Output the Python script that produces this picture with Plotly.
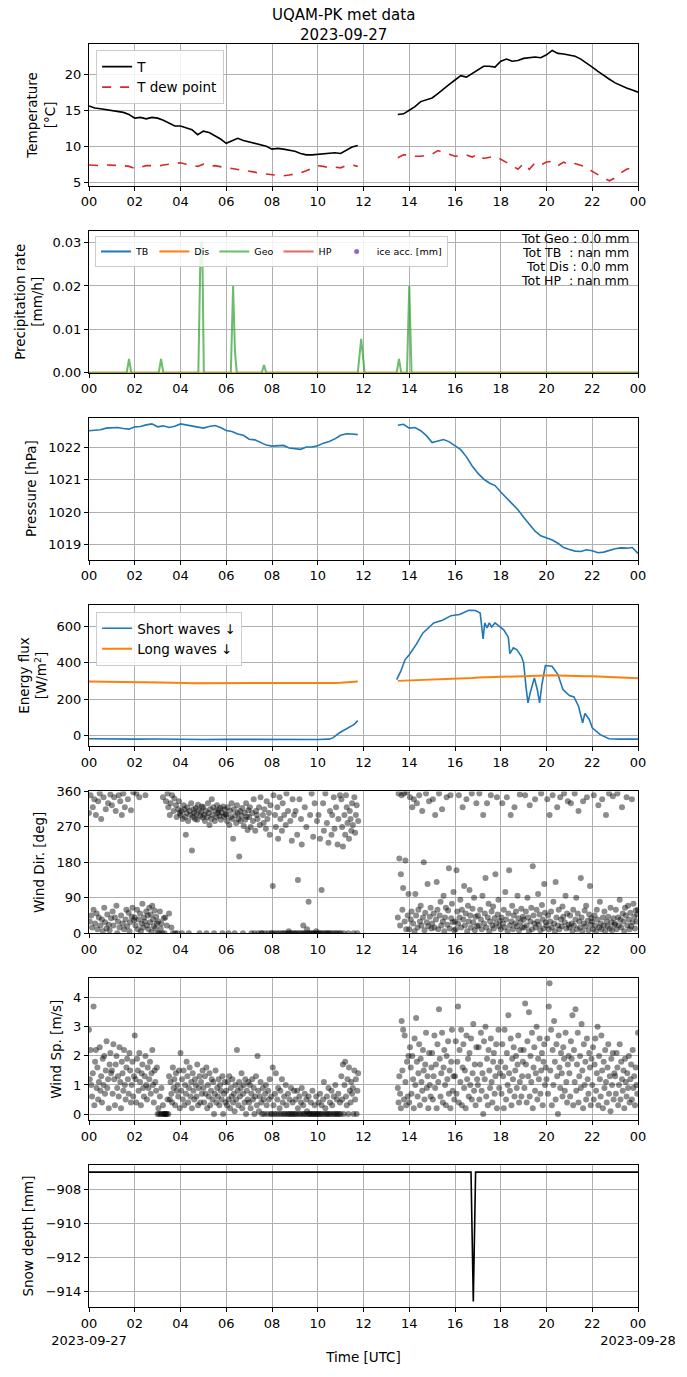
import numpy as np
import pandas as pd
import plotly.graph_objects as go
from plotly.subplots import make_subplots

DAY = pd.Timestamp("2023-09-27")
LINE_STEP = 0.25       # h, line series are 15-min samples
WIND_STEP = 1.0 / 30   # h, wind samples every 2 min
SEG_B = 13.5           # second segment start (data gap before it)

# temperature [°C]
temp_a = [15.6, 15.3, 15.2, 15.1, 15.0, 14.9, 14.7, 14.4, 13.9, 14.0, 13.8, 14.0,
          13.9, 13.6, 13.2, 12.8, 12.8, 12.6, 12.3, 11.6, 12.1, 11.9, 11.5, 11.0,
          10.4, 10.8, 11.1, 10.8, 10.6, 10.3, 10.1, 10.0, 9.6, 9.7, 9.6, 9.5,
          9.3, 9.0, 8.8, 8.8, 8.9, 9.0, 9.0, 9.1, 9.0, 9.5, 9.9, 10.1]
temp_b = [14.4, 14.5, 15.0, 15.5, 16.2, 16.5, 16.7, 17.3, 18.0, 18.6,
          19.2, 19.8, 19.6, 20.1, 20.7, 21.1, 21.1, 21.0, 21.8, 22.1, 21.8, 21.9,
          22.2, 22.3, 22.4, 22.3, 22.7, 23.3, 22.9, 22.8, 22.6, 22.5, 22.1, 21.6,
          21.0, 20.4, 19.8, 19.3, 18.8, 18.4, 18.1, 17.8, 17.5]
dew_a = [7.4, 7.3, 7.3, 7.4, 7.4, 7.4, 7.3, 7.2, 6.9, 7.1, 7.3, 7.3,
         7.2, 7.4, 7.5, 7.6, 7.7, 7.5, 7.4, 7.2, 7.5, 7.2, 7.3, 7.1,
         7.0, 6.9, 6.8, 6.6, 6.5, 6.4, 6.2, 6.1, 6.0, 6.0, 5.9, 6.0,
         6.1, 6.3, 6.6, 7.0, 7.3, 7.2, 7.0, 7.1, 7.0, 7.3, 7.4, 7.2]
dew_b = [8.4, 8.8, 8.8, 8.6, 8.6, 8.7, 8.9, 9.4, 9.2, 8.9,
         8.6, 8.7, 8.8, 8.5, 8.9, 8.3, 8.5, 8.6, 8.2, 7.8, 7.3, 6.8,
         7.6, 6.8, 7.7, 7.4, 7.8, 7.9, 7.3, 7.8, 7.4, 7.6, 7.3, 7.1,
         6.5, 6.0, 5.6, 5.2, 5.6, 6.3, 6.8, 7.0, 7.2]

# precipitation rate [mm/h]
geo_hours = [0, 1.65, 1.75, 1.85, 3.05, 3.15, 3.25, 4.78, 4.88, 4.95, 5.02,
             6.2, 6.3, 6.38, 6.46, 7.55, 7.65, 7.75, 11.75, 11.9, 12.05,
             13.45, 13.55, 13.65, 13.9, 14.0, 14.1, 24]
geo_rate = [0, 0, 0.0032, 0, 0, 0.0032, 0, 0, 0.03, 0.03, 0,
            0, 0.02, 0.005, 0, 0, 0.0018, 0, 0, 0.0078, 0,
            0, 0.0032, 0, 0, 0.02, 0, 0]
dis_hours = [0, 24]
dis_rate = [0, 0]
precip_totals = ["Tot Geo : 0.0 mm", "Tot TB\u00a0 : nan mm",
                 "Tot Dis : 0.0 mm", "Tot HP\u00a0 : nan mm"]

# pressure [hPa]
pres_a = [1022.50, 1022.52, 1022.53, 1022.58, 1022.60, 1022.60, 1022.57, 1022.55,
          1022.62, 1022.63, 1022.68, 1022.71, 1022.62, 1022.65, 1022.60, 1022.64,
          1022.71, 1022.68, 1022.63, 1022.62, 1022.58, 1022.63, 1022.66, 1022.60,
          1022.51, 1022.48, 1022.40, 1022.36, 1022.24, 1022.22, 1022.15, 1022.06,
          1022.03, 1022.04, 1022.05, 1021.97, 1021.95, 1021.93, 1022.00, 1022.00,
          1022.04, 1022.12, 1022.17, 1022.25, 1022.36, 1022.41, 1022.40, 1022.38]
pres_b = [1022.67, 1022.70, 1022.58, 1022.60, 1022.50, 1022.35, 1022.14, 1022.18,
          1022.23, 1022.16, 1022.05, 1021.92, 1021.70, 1021.42, 1021.20, 1021.02,
          1020.90, 1020.82, 1020.62, 1020.45, 1020.25, 1020.08, 1019.85, 1019.62,
          1019.42, 1019.28, 1019.22, 1019.15, 1019.05, 1018.92, 1018.86, 1018.81,
          1018.80, 1018.85, 1018.82, 1018.76, 1018.78, 1018.84, 1018.88, 1018.91,
          1018.90, 1018.92, 1018.74]

# radiation [W/m2]
sw_hours_a = [0, 0.5, 1, 2, 3, 4, 5, 6, 7, 8, 9, 10, 10.5, 10.66, 10.95,
              11.23, 11.42, 11.58, 11.75]
sw_a = [-18, -19, -19, -20, -19, -22, -22, -21, -22, -22, -22, -22, -20, -13, 15,
        33, 48, 60, 82]
sw_hours_b = [13.45, 13.63, 13.82, 14.0, 14.3, 14.6, 15.07, 15.45, 15.83, 16.2,
              16.6, 16.9, 17.1, 17.23, 17.3, 17.4, 17.5, 17.6, 17.75, 17.94,
              18.13, 18.33, 18.4, 18.55, 18.7, 18.9, 19.0, 19.1, 19.19, 19.3,
              19.47, 19.6, 19.7, 19.8, 19.95, 20.24, 20.5, 20.72, 21.0, 21.2,
              21.4, 21.58, 21.68, 21.87, 22.0, 22.35, 22.73, 23.2, 24.0]
sw_b = [307, 353, 417, 444, 499, 563, 618, 633, 658, 664,
        688, 686, 673, 530, 618, 591, 618, 596, 618, 600,
        580, 540, 450, 481, 472, 435, 399, 271, 179, 240,
        316, 250, 179, 280, 384, 380, 335, 252, 219, 212,
        161, 70, 121, 88, 42, 5, -18, -20, -20]
lw_a = [297, 297, 296, 296, 295, 295, 294, 294, 293, 293, 292, 292,
        291, 290, 290, 289, 288, 288, 287, 287, 287, 286, 286, 286,
        286, 286, 286, 286, 285, 285, 285, 285, 285, 285, 285, 285,
        285, 285, 285, 286, 286, 287, 288, 289, 290, 292, 294, 296]
lw_b = [300, 301, 302, 303, 304, 305, 306, 307,
        308, 309, 311, 312, 314, 316, 318, 319,
        321, 323, 324, 326, 327, 328, 329, 330,
        331, 331, 331, 331, 330, 330, 329, 328,
        327, 326, 325, 324, 323, 321, 320, 318,
        317, 316, 315]

# wind direction [deg], 2-min samples, one row per hour
wdir_a = [
    305, 30, 350, 45, 15, 320, 60, 340, 25, 300, 50, 10, 335, 40, 355, 20, 290, 35, 5, 345, 65, 28, 315, 12, 48, 330, 22, 8, 352, 38,
    325, 55, 20, 345, 40, 310, 70, 0, 30, 350, 15, 335, 45, 300, 25, 355, 10, 320, 35, 60, 18, 340, 52, 5, 28, 312, 42, 65, 358, 33,
    40, 20, 355, 60, 10, 35, 345, 50, 5, 25, 75, 15, 40, 30, 350, 55, 20, 45, 10, 65, 28, 48, 3, 70, 35, 18, 58, 12, 42, 25,
    0, 30, 0, 55, 12, 25, 0, 345, 38, 0, 40, 335, 20, 355, 320, 50, 300, 330, 15, 350, 0, 310, 342, 0, 325, 295, 0, 315, 335, 305,
    300, 310, 0, 290, 325, 315, 295, 250, 305, 320, 285, 0, 310, 300, 330, 210, 295, 315, 305, 290, 318, 302, 288, 326, 312, 0, 298, 308, 322, 294,
    320, 300, 285, 310, 0, 295, 330, 305, 275, 315, 290, 340, 300, 320, 0, 285, 310, 295, 325, 305, 312, 298, 318, 288, 306, 0, 322, 296, 314, 302,
    300, 285, 320, 0, 275, 310, 295, 330, 290, 240, 315, 0, 300, 280, 325, 305, 290, 195, 310, 285, 298, 318, 0, 272, 306, 288, 330, 296, 262, 312,
    295, 320, 270, 0, 305, 285, 340, 0, 260, 310, 300, 290, 0, 320, 275, 345, 0, 0, 300, 280, 315, 0, 265, 335, 290, 0, 305, 250, 325, 0,
    0, 120, 350, 0, 300, 270, 0, 320, 240, 0, 345, 290, 0, 260, 330, 0, 300, 0, 275, 355, 0, 310, 5, 0, 285, 0, 235, 340, 0, 300,
    0, 310, 0, 250, 135, 0, 340, 0, 290, 225, 0, 20, 0, 320, 0, 270, 10, 0, 80, 0, 300, 0, 355, 0, 245, 0, 330, 0, 5, 285,
    0, 300, 0, 240, 0, 110, 0, 330, 260, 0, 355, 0, 280, 0, 230, 0, 310, 0, 250, 300, 0, 345, 265, 0, 320, 0, 225, 290, 0, 350,
    0, 340, 270, 220, 0, 300, 250, 350, 320, 280, 0, 240, 310, 290, 260, 330, 275, 0, 345, 255, 300, 325, 0, 285]
wdir_b = [
    40, 355, 190, 20, 150, 350, 60, 115, 355, 30, 185, 10, 358, 45, 100,
    10, 345, 35, 55, 320, 25, 340, 5, 100, 45, 330, 15, 60, 350, 30, 70, 20, 310, 40, 180, 8, 52, 355, 28, 125, 18, 335, 42, 65, 12,
    25, 340, 50, 15, 300, 35, 130, 60, 10, 355, 45, 80, 20, 315, 30, 95, 5, 40, 65, 345, 22, 58, 165, 12, 350, 38, 75, 28, 105, 8,
    30, 10, 160, 55, 25, 350, 40, 85, 15, 60, 320, 35, 120, 20, 50, 340, 5, 70, 30, 110, 45, 15, 355, 62, 28, 90, 8, 42, 330, 18,
    45, 20, 355, 60, 35, 10, 95, 300, 25, 50, 140, 15, 330, 40, 75, 5, 30, 350, 55, 20, 68, 12, 38, 150, 25, 345, 48, 85, 18, 32,
    10, 40, 330, 25, 60, 15, 105, 35, 345, 5, 50, 160, 20, 300, 30, 70, 10, 45, 320, 25, 55, 18, 95, 38, 8, 352, 28, 62, 15, 42,
    35, 15, 350, 55, 20, 90, 40, 5, 325, 30, 65, 10, 170, 45, 25, 340, 15, 60, 30, 100, 22, 48, 8, 355, 72, 35, 12, 125, 52, 28,
    20, 340, 45, 10, 300, 30, 55, 15, 350, 80, 25, 5, 130, 40, 320, 20, 60, 10, 345, 35, 18, 68, 42, 355, 28, 95, 12, 50, 335, 22,
    15, 45, 330, 25, 5, 60, 20, 355, 35, 90, 10, 50, 310, 30, 15, 140, 40, 5, 335, 25, 58, 18, 70, 345, 32, 8, 48, 120, 22, 38,
    30, 10, 350, 45, 20, 5, 60, 35, 325, 15, 80, 25, 10, 340, 40, 20, 55, 5, 300, 30, 18, 42, 355, 12, 65, 28, 8, 348, 38, 22,
    25, 60, 10, 355, 40, 20, 85, 35, 15, 320, 50, 30, 5, 65, 45, 345, 20, 70, 35, 10, 52, 18, 340, 28, 75, 42, 12, 58, 30, 48,
    60]

# wind speed [m/s], 2-min samples
wspd_a = [
    2.9, 1.2, 2.2, 1.0, 0.6, 1.4, 3.7, 0.3, 1.8, 2.2, 0.9, 1.6, 0.5, 1.1, 2.3, 0.8, 1.3, 0.4, 1.9, 1.0, 2.0, 0.7, 1.5, 2.5, 0.9, 1.2, 0.2, 1.7, 2.1, 1.4,
    1.5, 0.7, 2.4, 1.2, 0.3, 1.7, 2.0, 0.9, 1.3, 0.6, 2.3, 1.1, 0.2, 1.8, 1.4, 0.8, 2.2, 1.0, 0.5, 1.6, 1.9, 1.2, 0.7, 2.1, 1.5, 0.4, 1.0, 1.8, 0.6, 1.3,
    2.7, 1.2, 0.4, 1.9, 1.5, 0.8, 2.1, 1.1, 0.3, 1.4, 1.7, 0.9, 0.6, 1.3, 2.0, 1.0, 0.5, 1.6, 0.9, 1.2, 1.8, 0.7, 1.4, 2.2, 1.0, 0.4, 1.5, 1.1, 0.8, 1.6,
    0.0, 0.2, 0.0, 0.6, 0.0, 0.9, 0.0, 0.3, 0.0, 0.0, 0.0, 0.0, 0.0, 0.5, 0.0, 1.3, 0.5, 1.1, 0.7, 0.4, 1.6, 0.9, 1.2, 0.3, 1.4, 0.8, 1.0, 0.6, 1.5, 0.2,
    2.1, 0.8, 1.2, 0.5, 1.5, 0.3, 1.0, 0.7, 1.8, 1.3, 0.4, 0.9, 1.6, 0.6, 1.1, 0.2, 1.4, 0.8, 0.5, 1.2, 1.0, 0.6, 1.7, 0.3, 0.9, 1.3, 0.4, 1.1, 0.7, 1.5,
    0.9, 0.4, 1.3, 0.7, 1.6, 0.2, 1.0, 0.6, 1.4, 0.3, 0.8, 1.2, 0.5, 1.1, 0.0, 0.7, 1.5, 0.4, 0.9, 0.6, 1.2, 0.3, 1.0, 0.8, 0.5, 1.3, 0.0, 0.7, 1.1, 0.4,
    0.8, 0.3, 1.1, 0.5, 1.3, 0.2, 0.9, 0.6, 1.2, 0.4, 0.7, 0.1, 1.0, 0.5, 2.2, 0.8, 0.3, 1.1, 0.6, 0.9, 1.4, 0.2, 0.7, 1.0, 0.4, 1.2, 0.0, 0.8, 0.5, 1.1,
    0.4, 1.0, 0.2, 0.7, 1.2, 0.5, 0.9, 0.0, 0.6, 1.3, 0.3, 2.0, 0.8, 0.1, 0.6, 1.1, 0.4, 0.0, 0.9, 0.5, 0.0, 0.7, 1.0, 0.3, 0.0, 0.8, 0.5, 1.2, 0.0, 0.6,
    0.0, 1.6, 0.3, 0.0, 0.7, 1.4, 0.0, 0.5, 0.9, 0.0, 0.2, 0.8, 0.0, 1.2, 0.4, 0.0, 0.6, 0.0, 1.0, 0.3, 0.0, 0.7, 0.0, 0.5, 0.0, 0.9, 0.0, 0.4, 0.0, 0.8,
    0.0, 0.5, 0.0, 0.8, 0.2, 0.0, 0.6, 0.0, 0.4, 0.9, 0.0, 0.3, 0.0, 0.7, 0.0, 0.5, 0.1, 0.0, 0.6, 0.0, 0.0, 0.4, 0.0, 0.8, 0.0, 0.0, 0.3, 0.0, 0.6, 0.0,
    0.0, 0.4, 0.0, 0.7, 0.0, 0.3, 0.0, 0.5, 1.1, 0.0, 0.2, 0.0, 0.6, 0.0, 0.9, 0.0, 0.4, 0.0, 0.8, 0.3, 0.0, 0.6, 0.0, 1.0, 0.0, 0.5, 0.0, 0.7, 0.0, 0.4,
    0.0, 1.3, 0.5, 1.7, 0.0, 1.0, 1.8, 0.6, 0.3, 1.2, 0.0, 1.6, 0.8, 0.4, 1.1, 0.7, 0.9, 0.0, 1.5, 0.5, 1.2, 0.0, 0.8, 1.4]
wspd_b = [
    0.9, 0.4, 1.3, 0.7, 0.2, 3.2, 1.5, 2.9, 0.5, 2.7, 1.1, 0.3, 1.8, 0.6, 2.0,
    0.4, 2.3, 1.6, 0.7, 2.0, 1.2, 0.2, 2.6, 1.0, 3.3, 1.8, 0.6, 1.4, 2.4, 0.3, 1.9, 1.1, 0.8, 2.2, 1.5, 0.5, 1.7, 2.8, 0.9, 1.3, 0.2, 2.1, 1.0, 0.6, 1.6,
    2.1, 0.5, 1.3, 2.7, 0.9, 1.7, 0.2, 2.4, 1.1, 3.6, 1.9, 0.6, 1.4, 2.8, 0.4, 1.6, 2.2, 1.0, 0.3, 2.0, 1.2, 2.5, 0.7, 1.5, 0.2, 1.8, 2.9, 0.8, 1.3, 0.5,
    1.3, 2.5, 0.7, 1.8, 3.7, 0.4, 2.2, 1.1, 2.9, 0.3, 1.6, 2.4, 0.9, 1.5, 0.2, 2.7, 1.2, 1.9, 0.6, 2.1, 1.0, 2.6, 0.5, 1.4, 3.1, 0.8, 1.7, 0.3, 2.3, 1.2,
    1.0, 2.3, 0.5, 1.7, 2.8, 0.8, 1.4, 0.0, 2.5, 1.2, 3.0, 0.6, 1.9, 0.3, 2.2, 1.5, 0.9, 2.6, 1.1, 0.4, 1.8, 2.1, 0.7, 1.3, 2.4, 0.2, 1.6, 2.9, 0.9, 1.4,
    1.8, 0.7, 2.4, 1.3, 0.2, 2.9, 1.6, 0.5, 2.1, 1.0, 3.4, 1.4, 0.8, 2.6, 0.3, 1.9, 1.2, 2.3, 0.6, 1.5, 2.0, 0.9, 1.7, 2.7, 0.4, 1.1, 2.2, 0.6, 1.3, 1.8,
    2.2, 0.9, 3.8, 1.7, 0.4, 2.5, 1.3, 3.5, 0.6, 2.0, 1.1, 2.8, 0.2, 1.6, 2.3, 0.8, 1.4, 3.0, 0.5, 1.9, 1.2, 2.6, 0.7, 1.5, 2.1, 0.3, 1.8, 2.4, 1.0, 1.6,
    1.2, 2.6, 0.7, 3.7, 4.5, 1.5, 2.9, 0.3, 2.2, 1.0, 3.2, 1.8, 0.5, 2.4, 1.3, 0.0, 2.7, 1.6, 0.9, 2.1, 1.4, 0.6, 2.3, 1.9, 0.8, 2.8, 1.1, 0.4, 1.7, 2.0,
    1.4, 0.6, 2.5, 1.9, 3.4, 0.3, 2.2, 1.1, 3.6, 0.8, 1.7, 2.8, 0.4, 1.3, 2.0, 0.9, 3.1, 1.5, 0.2, 2.4, 1.0, 1.8, 0.5, 2.6, 1.2, 0.7, 2.1, 1.6, 0.3, 1.9,
    1.0, 2.3, 0.5, 1.7, 2.6, 0.8, 1.4, 3.0, 0.3, 2.0, 1.2, 0.6, 2.7, 1.5, 0.2, 1.8, 0.9, 2.2, 1.1, 0.4, 1.6, 2.4, 0.7, 1.3, 0.1, 1.9, 1.0, 2.1, 0.5, 1.4,
    1.3, 0.7, 2.1, 1.6, 0.3, 1.0, 2.4, 0.5, 1.8, 1.2, 0.8, 1.5, 0.2, 1.9, 1.1, 0.6, 1.4, 0.9, 2.0, 0.4, 1.2, 1.7, 0.5, 2.2, 0.9, 1.3, 0.3, 1.6, 1.0, 0.7,
    2.8]

# snow depth [mm]
snow_hours = [0, 16.7, 16.8, 16.9, 24]
snow_depth = [-907.0, -907.0, -914.6, -907.0, -907.0]

tick_hours = list(range(0, 25, 2))
tick_labels = ["00", "02", "04", "06", "08", "10", "12", "14", "16", "18", "20", "22", "00"]
bottom_labels = ["00<br>2023-09-27"] + tick_labels[1:-1] + ["00<br>2023-09-28"]


def at_hours(h):
    return DAY + pd.to_timedelta(np.asarray(h, dtype=float), unit="h")


def sampled(start, step, n):
    return at_hours(start + step * np.arange(n))


def two_segments(ya, yb, step):
    xa = sampled(0.0, step, len(ya))
    xb = sampled(SEG_B, step, len(yb))
    # a None between the two segments breaks the line
    x = list(xa) + [xa[-1] + pd.Timedelta(minutes=1)] + list(xb)
    y = list(ya) + [None] + list(yb)
    return x, y


FONT = "DejaVu Sans"
BLUE, ORANGE, GREEN, RED, PURPLE = "#1f77b4", "#ff7f0e", "#2ca02c", "#d62728", "#9467bd"

fig = make_subplots(rows=7, cols=1, vertical_spacing=0.0356)

# temperature
x, y = two_segments(temp_a, temp_b, LINE_STEP)
fig.add_trace(go.Scatter(x=x, y=y, mode="lines", name="T", legend="legend",
                         line=dict(color="black", width=1.6)), row=1, col=1)
x, y = two_segments(dew_a, dew_b, LINE_STEP)
fig.add_trace(go.Scatter(x=x, y=y, mode="lines", name="T dew point", legend="legend",
                         line=dict(color=RED, width=1.6, dash="dash")), row=1, col=1)

# precipitation
fig.add_trace(go.Scatter(x=at_hours([0]), y=[None], mode="lines", name="TB", legend="legend2",
                         line=dict(color=BLUE, width=2)), row=2, col=1)
fig.add_trace(go.Scatter(x=at_hours(dis_hours), y=dis_rate, mode="lines", name="Dis",
                         legend="legend2", line=dict(color=ORANGE, width=2)), row=2, col=1)
fig.add_trace(go.Scatter(x=at_hours(geo_hours), y=geo_rate, mode="lines", name="Geo",
                         legend="legend2", line=dict(color="rgba(44,160,44,0.7)", width=2)),
              row=2, col=1)
fig.add_trace(go.Scatter(x=at_hours([0]), y=[None], mode="lines", name="HP", legend="legend2",
                         line=dict(color="rgba(214,39,40,0.7)", width=2)), row=2, col=1)
fig.add_trace(go.Scatter(x=at_hours([0]), y=[None], mode="markers", name="ice acc. [mm]",
                         legend="legend2", marker=dict(color=PURPLE, size=5)), row=2, col=1)

# pressure
x, y = two_segments(pres_a, pres_b, LINE_STEP)
fig.add_trace(go.Scatter(x=x, y=y, mode="lines", showlegend=False,
                         line=dict(color=BLUE, width=1.6)), row=3, col=1)

# radiation
sw_x = list(at_hours(sw_hours_a)) + [at_hours([12.5])[0]] + list(at_hours(sw_hours_b))
sw_y = sw_a + [None] + sw_b
fig.add_trace(go.Scatter(x=sw_x, y=sw_y, mode="lines", name="Short waves \u2193",
                         legend="legend3", line=dict(color=BLUE, width=1.6)), row=4, col=1)
x, y = two_segments(lw_a, lw_b, LINE_STEP)
fig.add_trace(go.Scatter(x=x, y=y, mode="lines", name="Long waves \u2193", legend="legend3",
                         line=dict(color=ORANGE, width=2)), row=4, col=1)

# wind
dots = dict(color="black", size=6, opacity=0.45, line=dict(width=0))
for row, ya, yb in [(5, wdir_a, wdir_b), (6, wspd_a, wspd_b)]:
    wx = list(sampled(0.0, WIND_STEP, len(ya))) + list(sampled(SEG_B, WIND_STEP, len(yb)))
    fig.add_trace(go.Scatter(x=wx, y=ya + yb, mode="markers", showlegend=False, marker=dots),
                  row=row, col=1)

# snow depth
fig.add_trace(go.Scatter(x=at_hours(snow_hours), y=snow_depth, mode="lines", showlegend=False,
                         line=dict(color="black", width=1.6)), row=7, col=1)

axis_style = dict(showline=True, mirror=True, linecolor="black", linewidth=1,
                  ticks="outside", ticklen=4, tickcolor="black", automargin=False,
                  showgrid=True, gridcolor="#b0b0b0", gridwidth=0.8, zeroline=False,
                  tickfont=dict(family=FONT, size=13, color="black"))

fig.update_xaxes(**axis_style, range=[DAY, DAY + pd.Timedelta(days=1)], tickangle=0,
                 tickvals=at_hours(tick_hours), ticktext=tick_labels)
fig.update_xaxes(ticktext=bottom_labels, row=7, col=1,
                 title=dict(text="Time [UTC]", font=dict(family=FONT, size=13.5), standoff=6))
fig.update_yaxes(**axis_style)

ytitle = dict(family=FONT, size=13.5, color="black")
fig.update_yaxes(row=1, col=1, range=[4.49, 24.2], tickvals=[5, 10, 15, 20],
                 title=dict(text="Temperature<br>[°C]", font=ytitle, standoff=6))
fig.update_yaxes(row=2, col=1, range=[0, 0.0327], tickvals=[0, 0.01, 0.02, 0.03],
                 tickformat=".2f",
                 title=dict(text="Precipitation rate<br>[mm/h]", font=ytitle, standoff=6))
fig.update_yaxes(row=3, col=1, range=[1018.55, 1022.9], tickvals=[1019, 1020, 1021, 1022],
                 title=dict(text="Pressure [hPa]", font=ytitle, standoff=8))
fig.update_yaxes(row=4, col=1, range=[-60, 719], tickvals=[0, 200, 400, 600],
                 title=dict(text="Energy flux<br>[W/m<sup>2</sup>]", font=ytitle, standoff=6))
fig.update_yaxes(row=5, col=1, range=[0, 360], tickvals=[0, 90, 180, 270, 360],
                 title=dict(text="Wind Dir. [deg]", font=ytitle, standoff=8))
fig.update_yaxes(row=6, col=1, range=[-0.21, 4.67], tickvals=[0, 1, 2, 3, 4],
                 title=dict(text="Wind Sp. [m/s]", font=ytitle, standoff=8))
fig.update_yaxes(row=7, col=1, range=[-914.92, -906.59], tickvals=[-914, -912, -910, -908],
                 title=dict(text="Snow depth [mm]", font=ytitle, standoff=8))

# totals in the precipitation panel
for i, txt in enumerate(precip_totals):
    fig.add_annotation(text=txt, xref="x2 domain", yref="y2 domain", x=0.988,
                       y=0.944 - i * 0.0985, xanchor="right", yanchor="middle",
                       showarrow=False, font=dict(family=FONT, size=12.5, color="black"))

# figure title, centred on the whole figure rather than on the plot area
fig.add_annotation(text="UQAM-PK met data<br>2023-09-27", xref="paper", yref="paper",
                   x=(343.5 - 89) / 549, y=(1307 - 24.5) / 1263,
                   xanchor="center", yanchor="middle", showarrow=False,
                   font=dict(family=FONT, size=15, color="black"))

box = dict(bgcolor="rgba(255,255,255,0.85)", bordercolor="#cccccc", borderwidth=1,
           xanchor="left", yanchor="top")
fig.update_layout(
    width=687, height=1377,
    margin=dict(l=89, r=49, t=44, b=70),
    paper_bgcolor="white", plot_bgcolor="white",
    font=dict(family=FONT, size=13, color="black"),
    legend=dict(**box, x=0.013, y=0.995, font=dict(family=FONT, size=13.5)),
    legend2=dict(**box, x=0.011, y=0.848, orientation="h",
                 font=dict(family=FONT, size=9.5)),
    legend3=dict(**box, x=0.013, y=0.5503, font=dict(family=FONT, size=13.5)),
)

# drop the browser's default body margin so the figure sits at the page corner
fig.write_html("out.html", config={"displayModeBar": False},
               post_script="document.body.style.margin = '0';")
